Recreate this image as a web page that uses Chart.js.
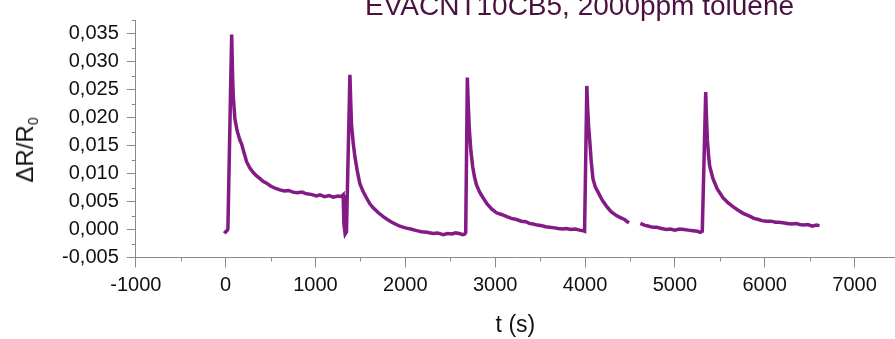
<!DOCTYPE html>
<html>
  <head>
    <style>
      body { margin: 0; background: #fff; font-family: "Liberation Sans", Arial, sans-serif; }
      #wrap { position: relative; width: 895px; height: 339px; overflow: hidden; }
      #title { position: absolute; left: 365px; top: -8px; font-size: 28px; line-height: 28px; color: #4a1140; white-space: nowrap; }
      #ylabel { position: absolute; left: 29px; top: 150px; font-size: 24px; line-height: 24px; color: #111;
                white-space: nowrap; transform: translate(-50%, -50%) rotate(-90deg); }
      #ylabel sub { font-size: 14px; vertical-align: -5px; }
    </style>
    <script src="https://cdn.jsdelivr.net/npm/chart.js"></script>
  </head>
  <body>
    <div id="wrap">
      <canvas id="sensorChart" width="895" height="339"></canvas>
      <div id="title">EVACNT10CB5, 2000ppm toluene</div>
      <div id="ylabel">&Delta;R/R<sub>0</sub></div>
    </div>

    <script>
      // time (s) and relative resistance change; null = gap in the trace
      var tSec = [
        -15, 0, 15, 25, 67, 78, 85, 103, 129, 159, 178, 200, 234, 270, 307, 345, 382, 420, 456, 500,
        550, 604, 650, 700, 750, 800, 850, 900, 950, 1012, 1050, 1100, 1150, 1197, 1250, 1290, 1308,
        1316, 1330, 1345, 1383, 1392, 1401, 1420, 1438, 1465, 1494, 1530, 1570, 1605, 1642, 1700,
        1754, 1800, 1850, 1900, 1939, 2000, 2060, 2124, 2180, 2240, 2309, 2360, 2420, 2470, 2520,
        2560, 2600, 2640, 2662, 2672, 2690, 2700, 2712, 2730, 2750, 2770, 2792, 2830, 2865, 2910,
        2960, 3014, 3070, 3130, 3180, 3237, 3290, 3340, 3380, 3422, 3470, 3520, 3560, 3607, 3660,
        3700, 3750, 3793, 3840, 3890, 3940, 3978, 3995, 4020, 4030, 4040, 4052, 4070, 4089, 4115,
        4145, 4190, 4238, 4290, 4349, 4400, 4440, 4470, 4490, 4550, 4616, 4660, 4710, 4757, 4800,
        4850, 4905, 4950, 5000, 5053, 5100, 5150, 5201, 5250, 5284, 5305, 5343, 5352, 5362, 5375,
        5387, 5424, 5470, 5535, 5590, 5646, 5700, 5760, 5832, 5880, 5930, 5970, 6018, 6070, 6120,
        6160, 6203, 6250, 6300, 6350, 6388, 6430, 6480, 6530, 6574, 6610
      ];
      var dR = [
        -0.0007, -0.0004, -0.0002, 0.0001, 0.0349, 0.0271, 0.0238, 0.0198, 0.0176, 0.0160, 0.0153,
        0.0140, 0.0121, 0.0110, 0.0102, 0.0096, 0.0091, 0.0086, 0.0083, 0.0078, 0.0074, 0.0071,
        0.0069, 0.0070, 0.0067, 0.0066, 0.0067, 0.0064, 0.0063, 0.0060, 0.0062, 0.0059, 0.0061,
        0.0058, 0.0060, 0.0059, 0.0062, 0.0010, -0.0008, -0.0004, 0.0277, 0.0230, 0.0187, 0.0155,
        0.0131, 0.0105, 0.0082, 0.0068, 0.0056, 0.0046, 0.0039, 0.0030, 0.0023, 0.0018, 0.0013,
        0.0009, 0.0006, 0.0003, 0.0001, -0.0002, -0.0004, -0.0005, -0.0007, -0.0006, -0.0009,
        -0.0007, -0.0008, -0.0006, -0.0007, -0.0009, -0.0008, -0.0005, 0.0272, 0.0225, 0.0180,
        0.0140, 0.0112, 0.0094, 0.0080, 0.0066, 0.0057, 0.0046, 0.0037, 0.0030, 0.0027, 0.0023,
        0.0020, 0.0018, 0.0015, 0.0014, 0.0011, 0.0010, 0.0008, 0.0007, 0.0005, 0.0004, 0.0003,
        0.0002, 0.0001, 0.0002, 0.0000, 0.0001, -0.0001, -0.0002, -0.0003, 0.0257, 0.0215, 0.0185,
        0.0160, 0.0120, 0.0090, 0.0076, 0.0067, 0.0053, 0.0042, 0.0032, 0.0025, 0.0021, 0.0018,
        0.0014, 0.0012, null, 0.0011, 0.0008, 0.0006, 0.0004, 0.0004, 0.0002, 0.0000, 0.0001,
        -0.0001, 0.0001, 0.0000, -0.0001, -0.0002, -0.0003, -0.0005, -0.0003, 0.0246, 0.0200,
        0.0160, 0.0132, 0.0114, 0.0091, 0.0073, 0.0057, 0.0048, 0.0041, 0.0035, 0.0029, 0.0024,
        0.0020, 0.0018, 0.0016, 0.0015, 0.0015, 0.0013, 0.0013, 0.0012, 0.0011, 0.0010, 0.0011,
        0.0009, 0.0008, 0.0009, 0.0006, 0.0008, 0.0007
      ];
      var xTicks = [-1000, 0, 1000, 2000, 3000, 4000, 5000, 6000, 7000];
      var yTicks = [-0.005, 0, 0.005, 0.01, 0.015, 0.02, 0.025, 0.03, 0.035];

      var points = [];
      for (var i = 0; i < tSec.length; i++) {
        points.push({ x: tSec[i], y: dR[i] });
      }

      var axisGray = '#8a8a8a';
      var labelFont = { family: '"Liberation Sans", Arial, sans-serif', size: 20 };

      // short minor ticks halfway between the labelled ones
      var minorTicks = {
        id: 'minorTicks',
        afterDraw: function (chart) {
          var ctx = chart.ctx;
          var xs = chart.scales.x, ys = chart.scales.y;
          var area = chart.chartArea;
          ctx.save();
          ctx.strokeStyle = axisGray;
          ctx.lineWidth = 1;
          ctx.beginPath();
          for (var v = -0.0025; v <= ys.max + 1e-9; v += 0.005) {
            var py = Math.round(ys.getPixelForValue(v)) + 0.5;
            ctx.moveTo(area.left - 4, py);
            ctx.lineTo(area.left, py);
          }
          for (var t = -500; t <= xs.max; t += 1000) {
            var px = Math.round(xs.getPixelForValue(t)) + 0.5;
            ctx.moveTo(px, area.bottom);
            ctx.lineTo(px, area.bottom + 4);
          }
          ctx.stroke();
          ctx.restore();
        }
      };

      var ctx = document.getElementById('sensorChart').getContext('2d');
      new Chart(ctx, {
        type: 'line',
        data: {
          datasets: [{
            data: points,
            borderColor: '#841a85',
            borderWidth: 3.5,
            pointRadius: 0,
            tension: 0,
            spanGaps: false
          }]
        },
        options: {
          responsive: false,
          animation: false,
          layout: { padding: { top: 6, right: 0, left: 0, bottom: 0 } },
          plugins: { legend: { display: false }, tooltip: { enabled: false } },
          scales: {
            x: {
              type: 'linear',
              min: -1000,
              max: 7450,
              afterFit: function (s) { s.height = 81.5; },
              afterBuildTicks: function (s) {
                s.ticks = xTicks.map(function (v) { return { value: v }; });
              },
              border: { color: axisGray, width: 1 },
              grid: { drawOnChartArea: false, tickLength: 10, color: axisGray },
              ticks: {
                autoSkip: false,
                maxRotation: 0,
                padding: 6,
                color: '#111',
                font: labelFont,
                callback: function (v) { return String(v); }
              },
              title: {
                display: true,
                text: 't (s)',
                color: '#111',
                font: { family: '"Liberation Sans", Arial, sans-serif', size: 23 },
                padding: { top: 0, bottom: 0 }
              }
            },
            y: {
              min: -0.005,
              max: 0.0375,
              afterFit: function (s) { s.width = 135.8; },
              afterBuildTicks: function (s) {
                s.ticks = yTicks.map(function (v) { return { value: v }; });
              },
              border: { color: axisGray, width: 1 },
              grid: { drawOnChartArea: false, tickLength: 9, color: axisGray },
              ticks: {
                autoSkip: false,
                padding: 8,
                color: '#111',
                font: labelFont,
                callback: function (v) { return v.toFixed(3).replace('.', ','); }
              }
            }
          }
        },
        plugins: [minorTicks]
      });
    </script>
  </body>
</html>
